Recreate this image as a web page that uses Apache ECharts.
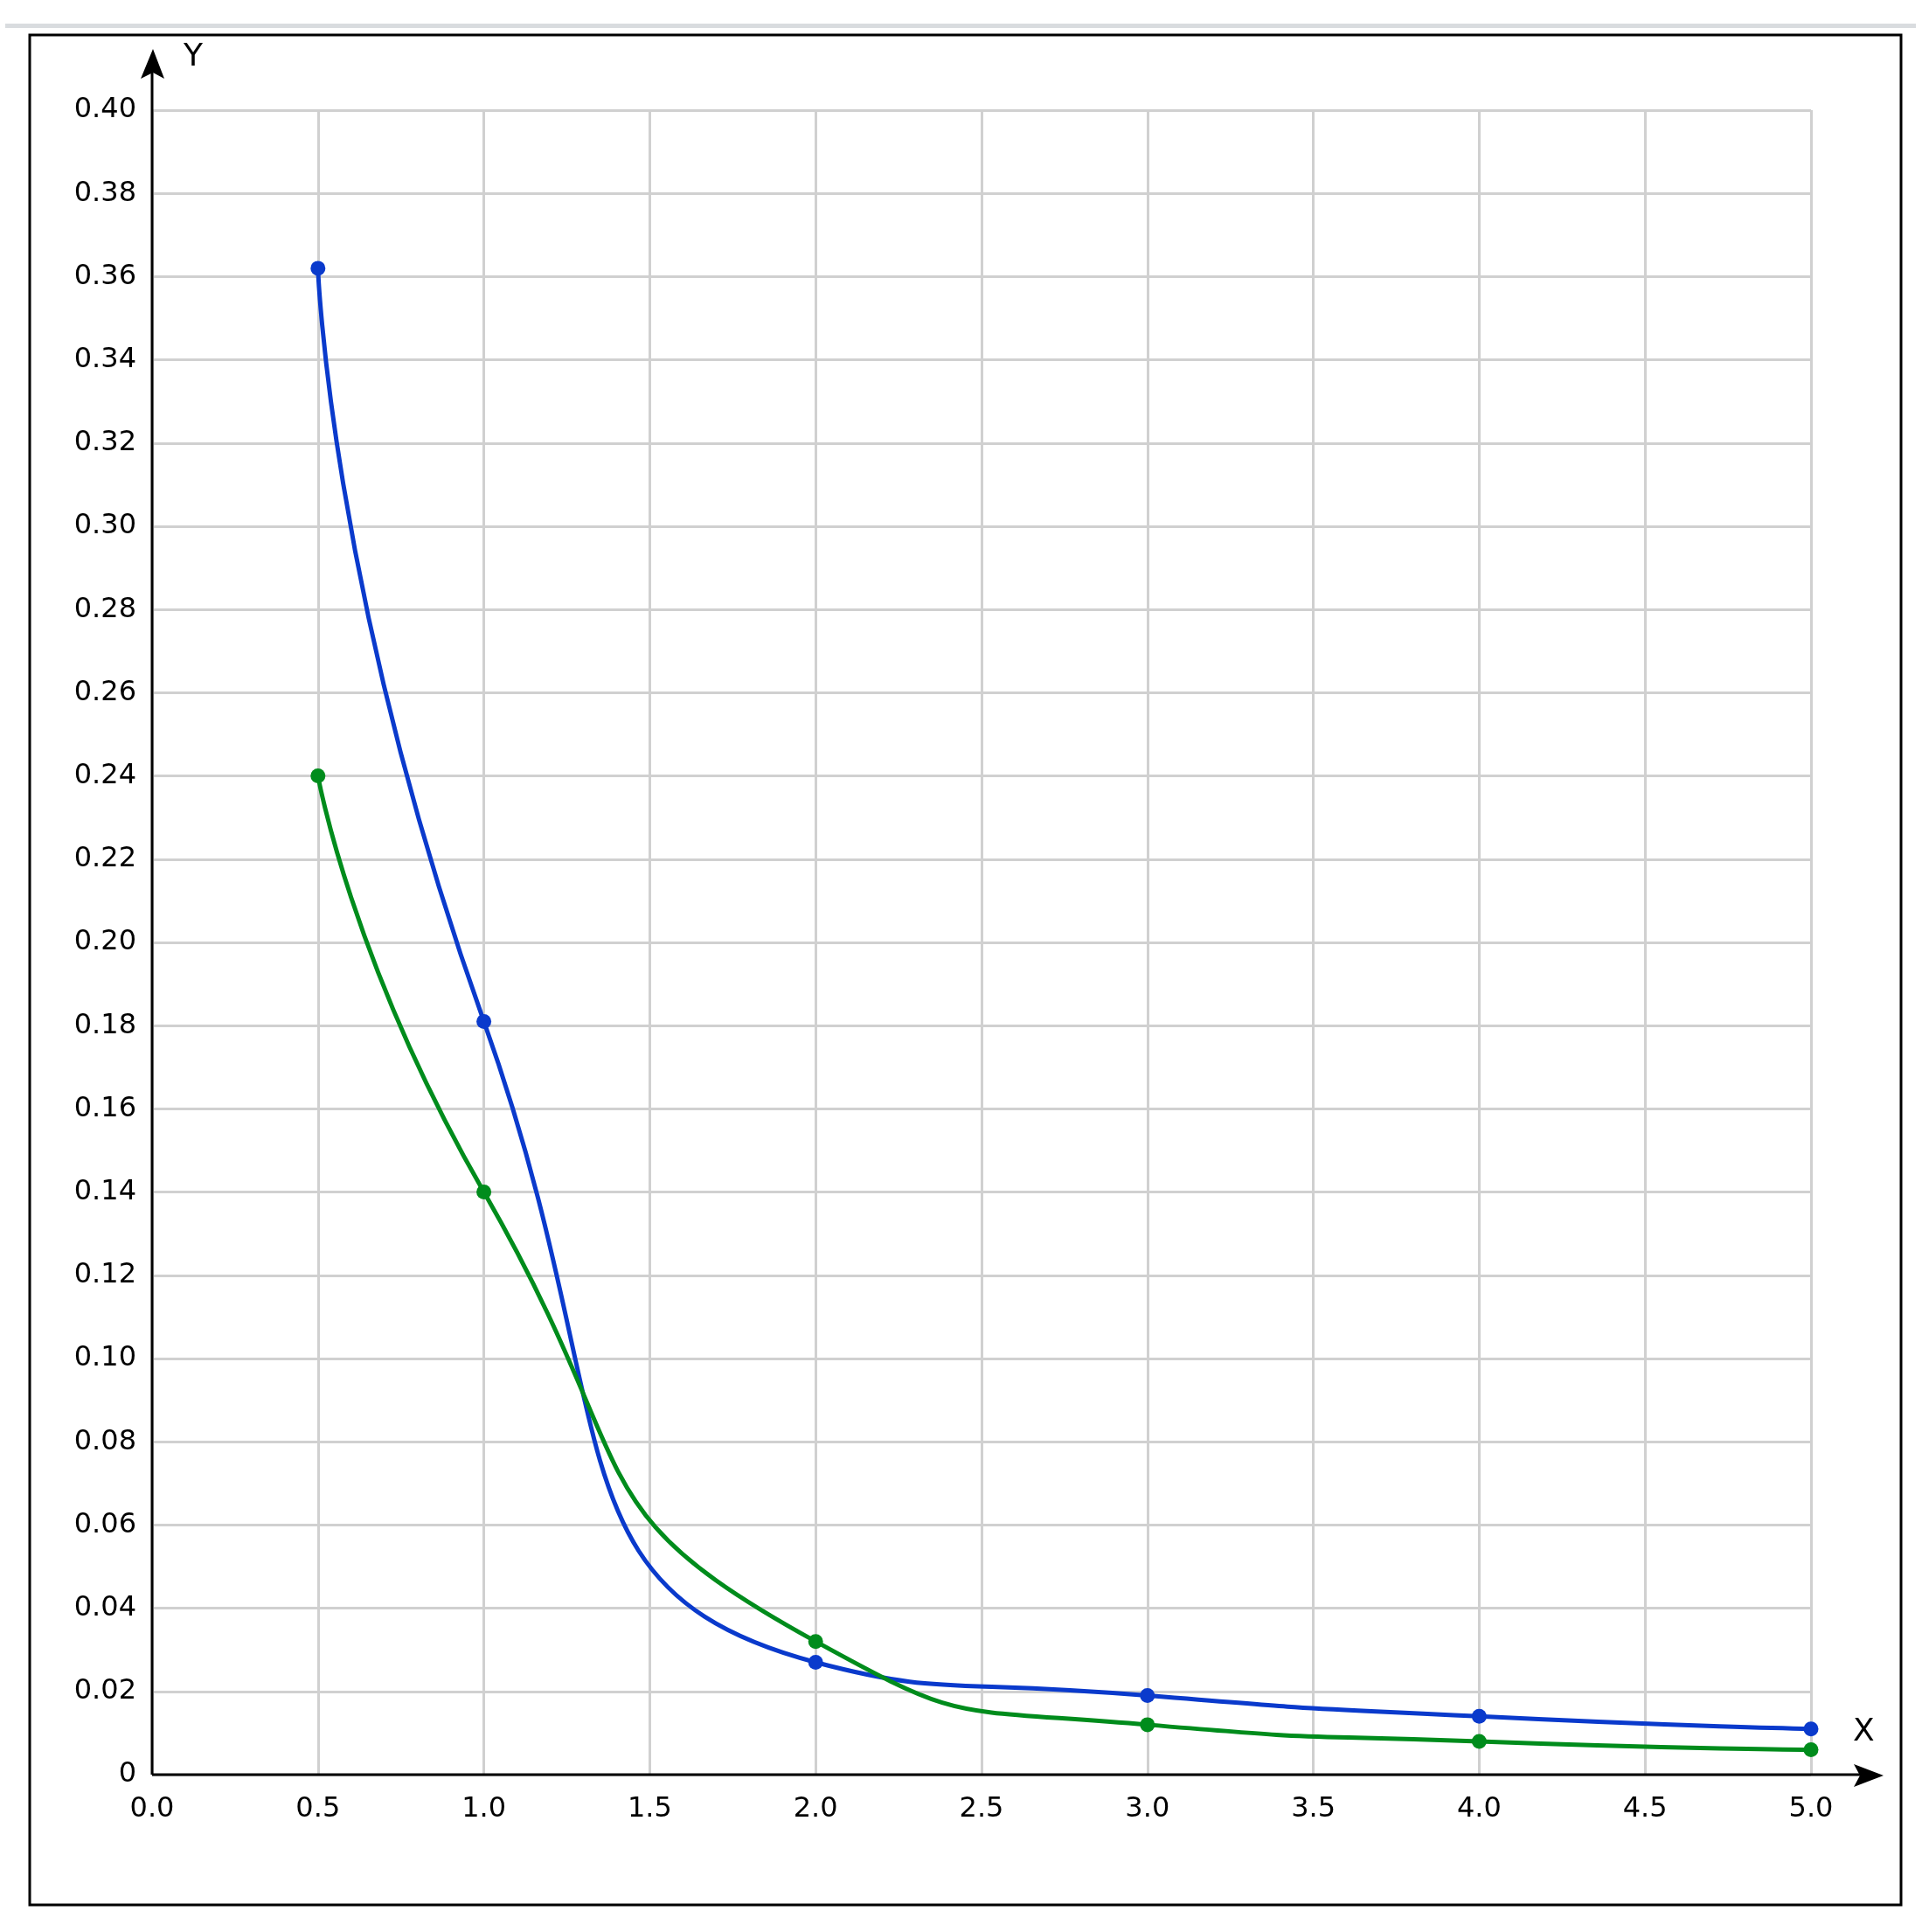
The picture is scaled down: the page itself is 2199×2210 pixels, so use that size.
<!DOCTYPE html>
<html>
<head>
<meta charset="utf-8">
<script src="https://cdn.jsdelivr.net/npm/echarts@6/dist/echarts.min.js"></script>
<style>html,body{margin:0;padding:0;background:#fff}#grf{width:2199px;height:2210px}</style>
</head>
<body>
<div id="grf"></div>
<script>
// Dados
var valoresX   = [0.5, 1.0, 2.0, 3.0, 4.0, 5.0];
var serieAzul  = [0.362, 0.181, 0.027, 0.019, 0.014, 0.011];
var serieVerde = [0.240, 0.140, 0.032, 0.012, 0.008, 0.006];

var grafico = echarts.init(document.getElementById('grf'));

function pares(ys) {
	var r = [];
	for (var i = 0; i < valoresX.length; i++) r.push([valoresX[i], ys[i]]);
	return r;
}

var fonte = 'DejaVu Sans';

var opcoes = {
	animation: false,
	grid: { left: 174, right: 127, top: 126, bottom: 180 },
	xAxis: {
		type: 'value', min: 0, max: 5, interval: 0.5,
		axisLine: { show: false },
		axisTick: { show: false },
		axisLabel: { margin: 24, fontSize: 32, fontFamily: fonte, color: '#000',
			formatter: function (v) { return v.toFixed(1); } },
		splitLine: { lineStyle: { color: '#d0d0d0', width: 3 } }
	},
	yAxis: {
		type: 'value', min: 0, max: 0.4, interval: 0.02,
		axisLine: { show: false },
		axisTick: { show: false },
		axisLabel: { margin: 18, fontSize: 32, fontFamily: fonte, color: '#000',
			formatter: function (v) { return v === 0 ? '0' : v.toFixed(2); } },
		splitLine: { lineStyle: { color: '#d0d0d0', width: 3 } }
	},
	series: [{
		type: 'line', data: pares(serieAzul), smooth: 0.6,
		symbol: 'circle', symbolSize: 17,
		lineStyle: { color: '#0a3acc', width: 5 },
		itemStyle: { color: '#0a3acc' }
	}, {
		type: 'line', data: pares(serieVerde), smooth: 0.6,
		symbol: 'circle', symbolSize: 17,
		lineStyle: { color: '#008c1c', width: 5 },
		itemStyle: { color: '#008c1c' }
	}],
	graphic: [
		{ type: 'rect', shape: { x: 6, y: 27, width: 2186, height: 5 }, style: { fill: '#d9dcdf' }, silent: true },
		{ type: 'rect', shape: { x: 34, y: 40, width: 2141, height: 2139 }, style: { fill: 'none', stroke: '#000', lineWidth: 3 }, silent: true },
		{ type: 'line', shape: { x1: 174, y1: 2030, x2: 2140, y2: 2030 }, style: { stroke: '#000', lineWidth: 3 }, z: 10 },
		{ type: 'polygon', shape: { points: [[2155, 2031], [2121, 2018], [2128, 2031], [2121, 2044]] }, style: { fill: '#000' }, z: 10 },
		{ type: 'line', shape: { x1: 174, y1: 2030, x2: 174, y2: 75 }, style: { stroke: '#000', lineWidth: 3 }, z: 10 },
		{ type: 'polygon', shape: { points: [[175, 56], [161, 90], [175, 83], [188, 90]] }, style: { fill: '#000' }, z: 10 },
		{ type: 'text', x: 210, y: 48, style: { text: 'Y', font: '36px ' + fonte, fill: '#000' } },
		{ type: 'text', x: 2120, y: 1964, style: { text: 'X', font: '36px ' + fonte, fill: '#000' } }
	]
};

grafico.setOption(opcoes);
</script>
</body>
</html>
